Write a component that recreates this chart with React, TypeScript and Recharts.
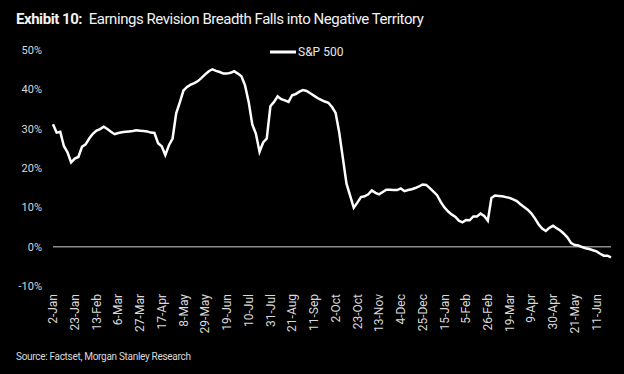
import { LineChart, Line, XAxis, YAxis, ReferenceLine } from "recharts";

// twice-weekly observations (Mon / Thu), 2-Jan (yr 1) .. 25-Jun (yr 2)
const dates = [
  "2-Jan", "5-Jan", "9-Jan", "12-Jan", "16-Jan", "19-Jan", "23-Jan", "26-Jan", "30-Jan", "2-Feb",
  "6-Feb", "9-Feb", "13-Feb", "16-Feb", "20-Feb", "23-Feb", "27-Feb", "2-Mar", "6-Mar", "9-Mar",
  "13-Mar", "16-Mar", "20-Mar", "23-Mar", "27-Mar", "30-Mar", "3-Apr", "6-Apr", "10-Apr", "13-Apr",
  "17-Apr", "20-Apr", "24-Apr", "27-Apr", "1-May", "4-May", "8-May", "11-May", "15-May", "18-May",
  "22-May", "25-May", "29-May", "1-Jun", "5-Jun", "8-Jun", "12-Jun", "15-Jun", "19-Jun", "22-Jun",
  "26-Jun", "29-Jun", "3-Jul", "6-Jul", "10-Jul", "13-Jul", "17-Jul", "20-Jul", "24-Jul", "27-Jul",
  "31-Jul", "3-Aug", "7-Aug", "10-Aug", "14-Aug", "17-Aug", "21-Aug", "24-Aug", "28-Aug", "31-Aug",
  "4-Sep", "7-Sep", "11-Sep", "14-Sep", "18-Sep", "21-Sep", "25-Sep", "28-Sep", "2-Oct", "5-Oct",
  "9-Oct", "12-Oct", "16-Oct", "19-Oct", "23-Oct", "26-Oct", "30-Oct", "2-Nov", "6-Nov", "9-Nov",
  "13-Nov", "16-Nov", "20-Nov", "23-Nov", "27-Nov", "30-Nov", "4-Dec", "7-Dec", "11-Dec", "14-Dec",
  "18-Dec", "21-Dec", "25-Dec", "28-Dec", "1-Jan", "4-Jan", "8-Jan", "11-Jan", "15-Jan", "18-Jan",
  "22-Jan", "25-Jan", "29-Jan", "1-Feb", "5-Feb", "8-Feb", "12-Feb", "15-Feb", "19-Feb", "22-Feb",
  "26-Feb", "1-Mar", "5-Mar", "8-Mar", "12-Mar", "15-Mar", "19-Mar", "22-Mar", "26-Mar", "29-Mar",
  "2-Apr", "5-Apr", "9-Apr", "12-Apr", "16-Apr", "19-Apr", "23-Apr", "26-Apr", "30-Apr", "3-May",
  "7-May", "10-May", "14-May", "17-May", "21-May", "24-May", "28-May", "31-May", "4-Jun", "7-Jun",
  "11-Jun", "14-Jun", "18-Jun", "21-Jun", "25-Jun",
];

// S&P 500 earnings revision breadth, %
const sp500 = [
  31.1, 29.0, 29.2, 25.6, 24.0, 21.4, 22.4, 22.8, 25.4, 26.0,
  27.5, 28.7, 29.5, 29.9, 30.5, 29.9, 29.2, 28.6, 28.9, 29.1,
  29.2, 29.3, 29.4, 29.6, 29.5, 29.4, 29.3, 29.0, 28.9, 26.3,
  25.5, 23.3, 25.8, 27.5, 33.9, 36.7, 39.7, 40.6, 41.2, 41.6,
  42.1, 42.9, 43.8, 44.6, 45.1, 44.7, 44.4, 44.0, 44.0, 44.2,
  44.6, 44.0, 43.3, 41.0, 36.8, 31.1, 28.7, 24.1, 26.5, 27.5,
  35.7, 36.8, 38.2, 37.5, 37.2, 36.8, 38.5, 38.8, 39.4, 39.8,
  39.6, 39.0, 38.4, 37.8, 37.3, 36.9, 36.6, 35.5, 34.0, 29.0,
  22.5, 16.0, 13.0, 9.9, 11.2, 12.6, 12.8, 13.3, 14.3, 13.7,
  13.3, 13.9, 14.5, 14.5, 14.4, 14.4, 14.8, 14.1, 14.4, 14.6,
  14.9, 15.3, 15.8, 15.7, 14.9, 14.0, 13.1, 11.4, 10.0, 9.0,
  8.2, 7.6, 6.6, 6.2, 6.8, 6.7, 7.7, 7.7, 8.4, 7.8,
  6.6, 12.4, 13.0, 12.9, 12.8, 12.6, 12.4, 12.0, 11.6, 10.8,
  10.1, 9.4, 8.5, 7.2, 5.7, 4.6, 4.0, 4.8, 5.3, 4.7,
  4.1, 3.3, 2.3, 0.9, 0.4, 0.3, -0.1, -0.4, -0.6, -0.9,
  -1.2, -1.8, -2.3, -2.3, -2.7,
];

const yTicks = [-10, 0, 10, 20, 30, 40, 50];

const chartData = dates.map((date, i) => ({ date, sp500: sp500[i] }));

const FONT = "Roboto, 'Noto Sans', sans-serif";

function DateTick({ x, y, payload }: any) {
  return (
    <text
      x={x}
      y={y}
      dy="0.35em"
      textAnchor="end"
      transform={`rotate(-90, ${x}, ${y})`}
      fill="#d9d9d9"
      fontSize={12}
      fontFamily={FONT}
    >
      {payload.value}
    </text>
  );
}

export default function App() {
  return (
    <div style={{ position: "absolute", left: 0, top: 0, width: 624, height: 374, background: "#000", overflow: "hidden" }}>
      <div style={{ position: "absolute", left: 16, top: 10, fontFamily: FONT, fontSize: 15, color: "#f2f2f2", whiteSpace: "nowrap", letterSpacing: -0.45 }}>
        <b>Exhibit 10:</b>&nbsp; Earnings Revision Breadth Falls into Negative Territory
      </div>
      <div style={{ position: "absolute", left: 270, top: 45, display: "flex", alignItems: "center", fontFamily: FONT, fontSize: 12, color: "#e6e6e6" }}>
        <svg width={26} height={4} style={{ marginRight: 2 }}>
          <line x1={0} y1={2} x2={26} y2={2} stroke="#fff" strokeWidth={3} />
        </svg>
        S&amp;P 500
      </div>
      <LineChart width={624} height={374} data={chartData} margin={{ top: 50, right: 13, bottom: 28, left: 0 }}>
        <XAxis
          dataKey="date"
          interval={5}
          axisLine={false}
          tickLine={false}
          tickMargin={2}
          height={60}
          tick={<DateTick />}
        />
        <YAxis
          domain={[-10, 50]}
          ticks={yTicks}
          width={53}
          axisLine={false}
          tickLine={false}
          tickMargin={5}
          tickFormatter={(v) => `${v}%`}
          tick={{ fill: "#d9d9d9", fontSize: 11, fontFamily: FONT }}
        />
        <ReferenceLine y={0} stroke="#8c8c8c" strokeWidth={1.5} />
        <Line
          type="linear"
          dataKey="sp500"
          stroke="#fff"
          strokeWidth={2.5}
          dot={false}
          isAnimationActive={false}
        />
      </LineChart>
      <div style={{ position: "absolute", left: 16, top: 351, fontFamily: FONT, fontSize: 10, color: "#d9d9d9", whiteSpace: "nowrap", letterSpacing: -0.3 }}>
        Source: Factset, Morgan Stanley Research
      </div>
    </div>
  );
}
